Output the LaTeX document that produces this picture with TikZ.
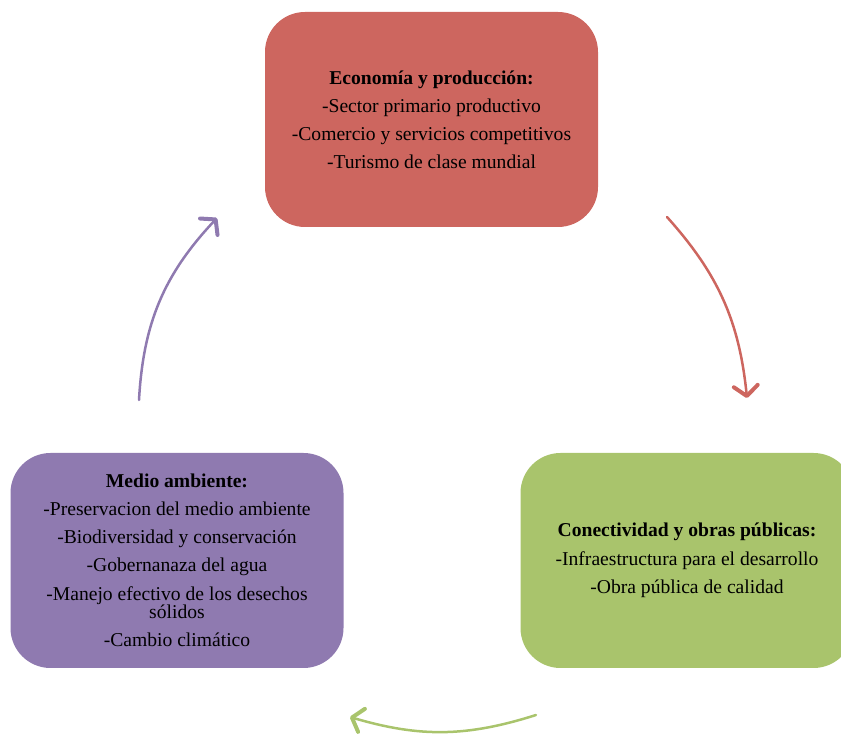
\documentclass[tikz,border=0pt]{standalone}
\usepackage{fontspec}
\setmainfont{Liberation Serif}
\usepackage{tikz}
\usetikzlibrary{arrows.meta}
\definecolor{ecored}{HTML}{CD665F}
\definecolor{medpurple}{HTML}{8F7AB0}
\definecolor{congreen}{HTML}{A9C46C}

\begin{document}
\begin{tikzpicture}[x=1pt, y=1pt,
  areabox/.style={rounded corners=40pt, minimum width=333pt, minimum height=215pt, align=center, inner sep=0pt,
    font=\fontsize{19.6}{18}\selectfont},
  cyclearrow/.style={line width=2.5pt, line cap=round, -{Straight Barb[length=10pt,width=24pt,line width=4pt,round]}}]
\clip (0,0) rectangle (841,734);
\useasboundingbox (0,0) rectangle (841,734);
\node[areabox, fill=ecored] (eco) at (431.5,614.5)
  {\textbf{Economía y producción:}\\[10pt]-Sector primario productivo\\[10pt]-Comercio y servicios competitivos\\[10pt]-Turismo de clase mundial};
\node[areabox, fill=congreen] (con) at (687,173.5)
  {\textbf{Conectividad y obras públicas:}\\[10pt]-Infraestructura para el desarrollo\\[10pt]-Obra pública de calidad};
\node[areabox, fill=medpurple] (med) at (177,173.5)
  {\textbf{Medio ambiente:}\\[10pt]-Preservacion del medio ambiente\\[10pt]-Biodiversidad y conservación\\[10pt]-Gobernanaza del agua\\[10pt]-Manejo efectivo de los desechos\\sólidos\\[10pt]-Cambio climático};
% arrows between the areas
\coordinate (ecoout) at (667,517);
\coordinate (conin) at (747,336);
\coordinate (conout) at (536,19);
\coordinate (medin) at (350,17);
\coordinate (medout) at (139,334);
\coordinate (ecoin) at (217,516);
\draw[cyclearrow, ecored] (ecoout) to[bend left=18] (conin);
\draw[cyclearrow, congreen] (conout) to[bend left=17] (medin);
\draw[cyclearrow, medpurple] (medout) to[bend left=20] (ecoin);
\end{tikzpicture}
\end{document}
